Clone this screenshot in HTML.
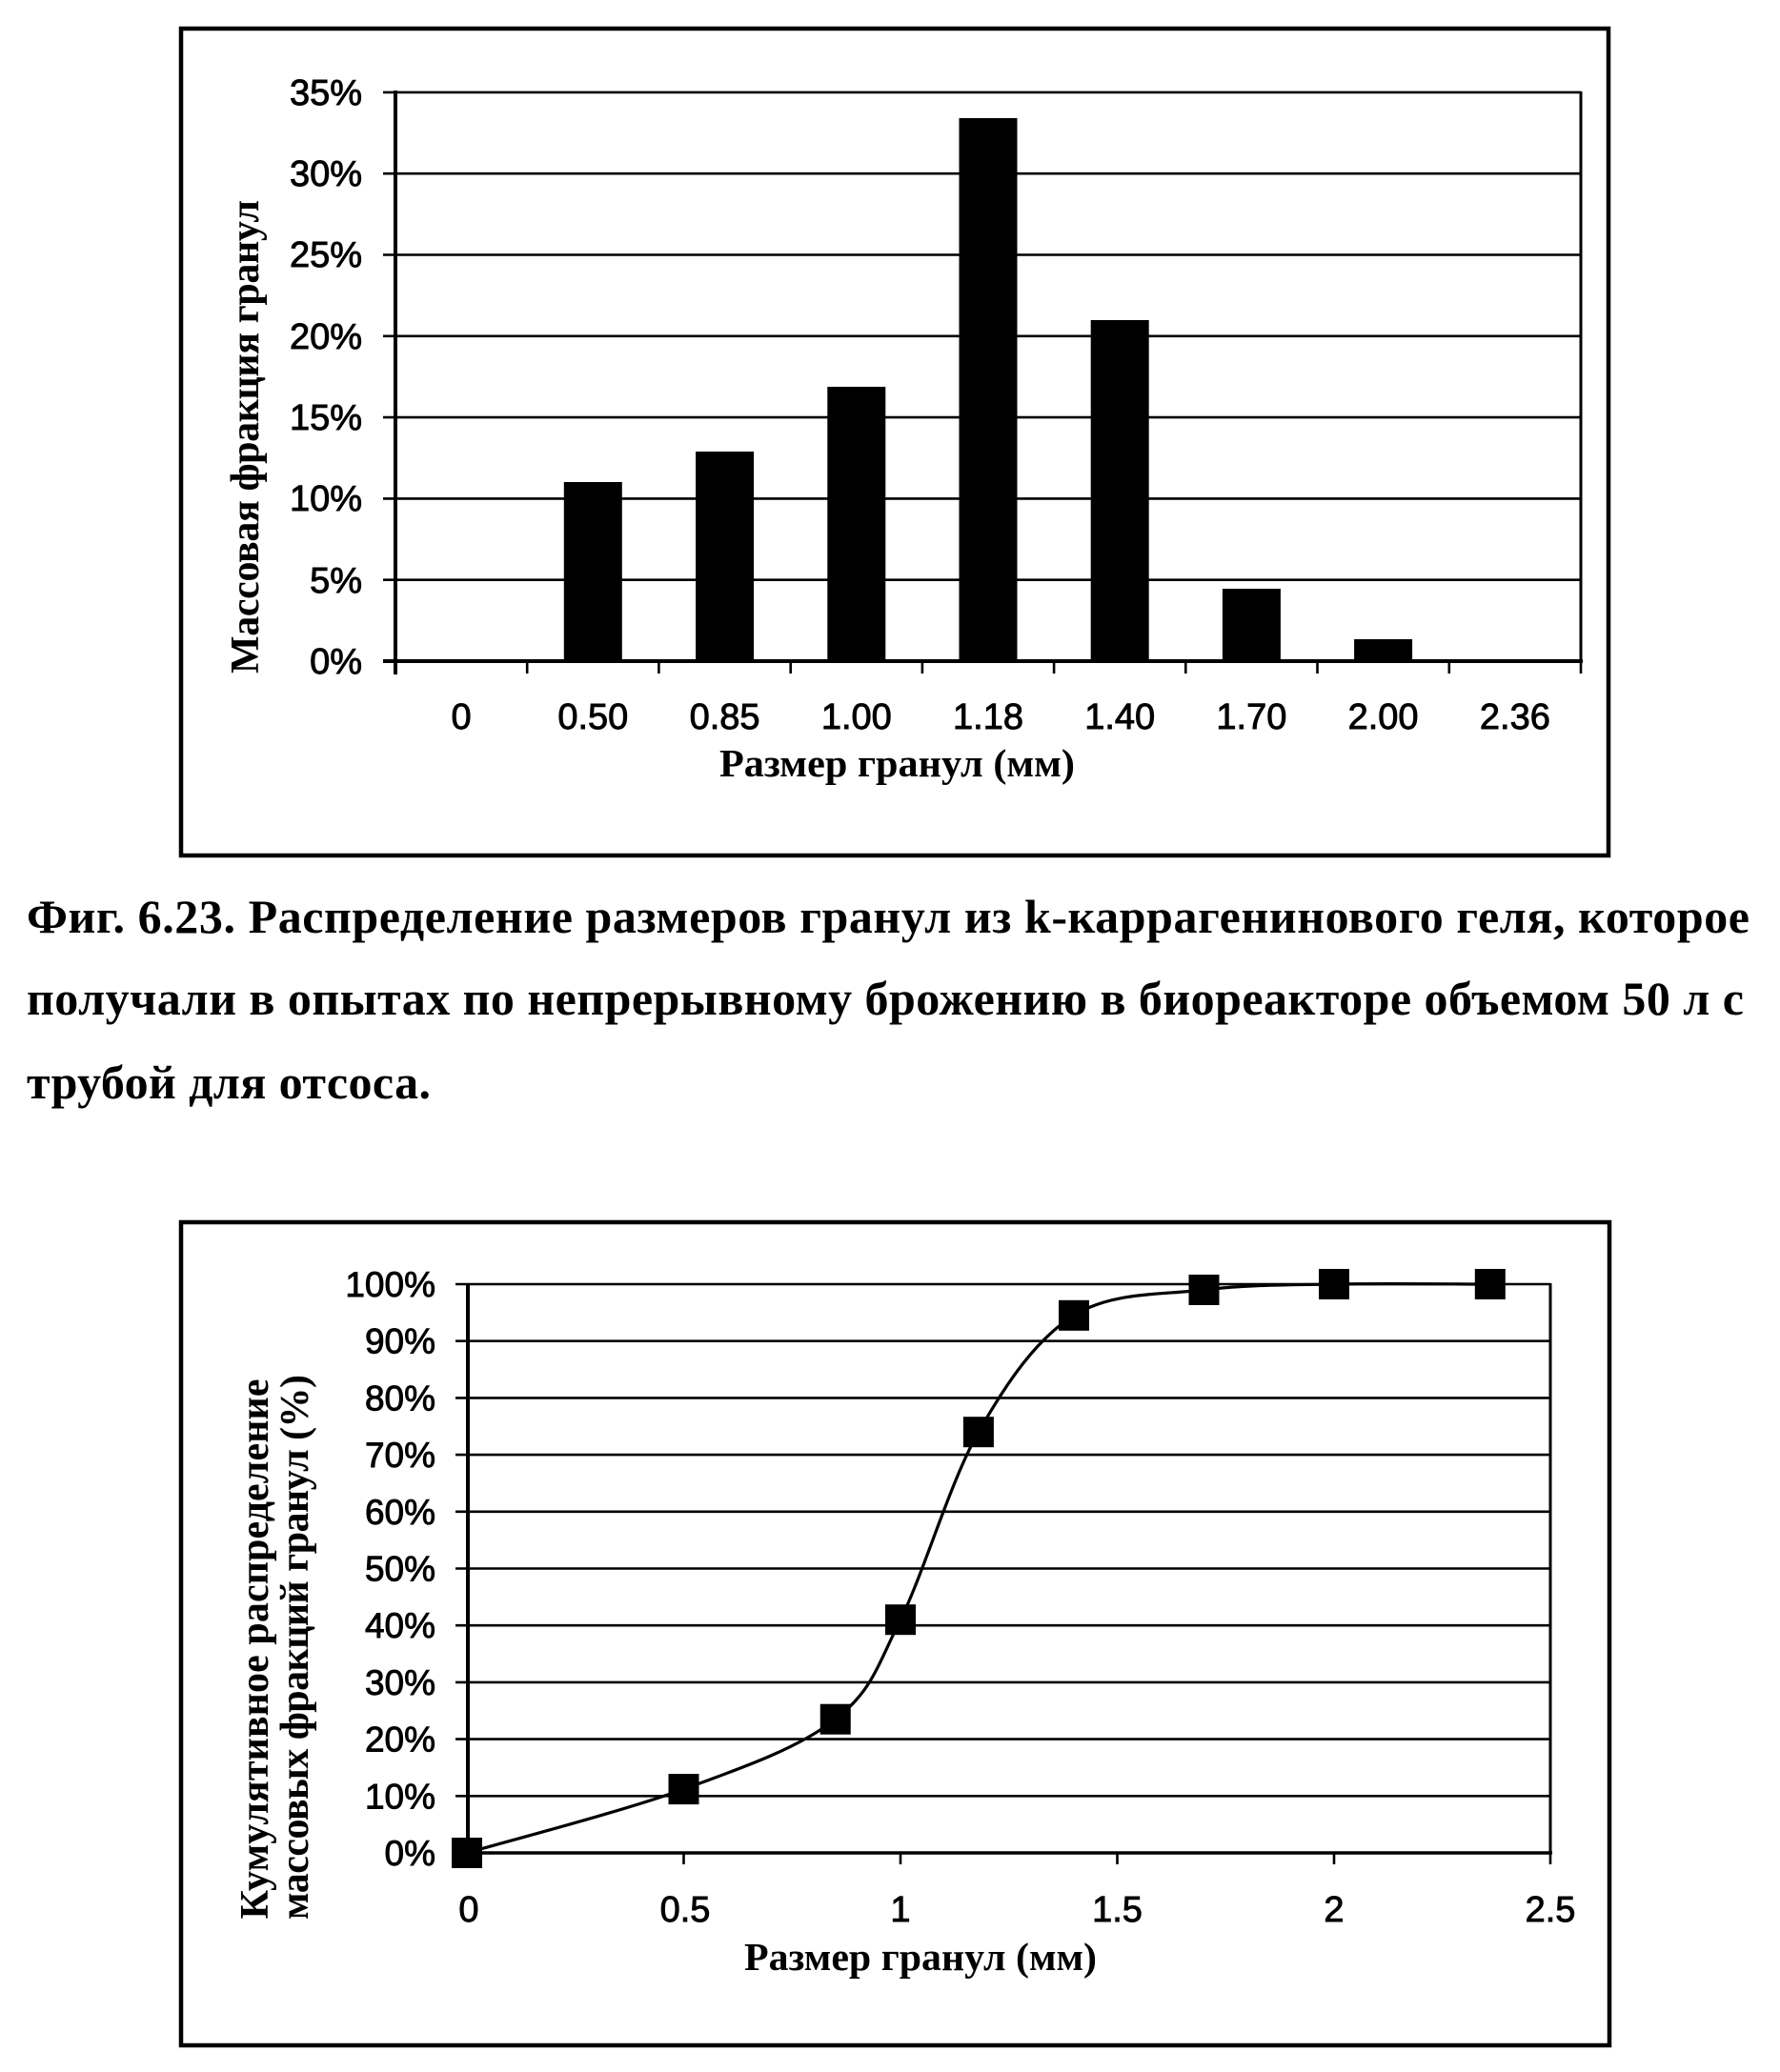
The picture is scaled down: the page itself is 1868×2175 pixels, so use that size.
<!DOCTYPE html>
<html>
<head>
<meta charset="utf-8">
<style>
html,body{margin:0;padding:0;background:#fff;}
svg{display:block;}
.sans{font-family:"Liberation Sans",Arial,sans-serif;stroke:#000;stroke-width:0.9;}
.serif{font-family:"Liberation Serif","Times New Roman",serif;font-weight:bold;}
</style>
</head>
<body>
<svg width="1868" height="2175" viewBox="0 0 1868 2175" xmlns="http://www.w3.org/2000/svg">
<rect x="0" y="0" width="1868" height="2175" fill="#fff"/>

<!-- ================= TOP CHART ================= -->
<rect x="190" y="30" width="1498" height="868" fill="none" stroke="#000" stroke-width="4.5"/>

<g stroke="#000" stroke-width="2.6">
  <line x1="402" y1="96.9" x2="1659" y2="96.9"/>
  <line x1="402" y1="182.2" x2="1659" y2="182.2"/>
  <line x1="402" y1="267.5" x2="1659" y2="267.5"/>
  <line x1="402" y1="352.8" x2="1659" y2="352.8"/>
  <line x1="402" y1="438.1" x2="1659" y2="438.1"/>
  <line x1="402" y1="523.4" x2="1659" y2="523.4"/>
  <line x1="402" y1="608.7" x2="1659" y2="608.7"/>
</g>
<line x1="1659" y1="96" x2="1659" y2="694" stroke="#000" stroke-width="3"/>

<g fill="#000">
  <rect x="591.8" y="506" width="61" height="188"/>
  <rect x="730.1" y="474" width="61" height="220"/>
  <rect x="868.3" y="406" width="61" height="288"/>
  <rect x="1006.5" y="124" width="61" height="570"/>
  <rect x="1144.7" y="336" width="61" height="358"/>
  <rect x="1282.9" y="618" width="61" height="76"/>
  <rect x="1421.1" y="671" width="61" height="23"/>
</g>

<line x1="415" y1="95" x2="415" y2="708" stroke="#000" stroke-width="4"/>
<line x1="402" y1="694" x2="1661" y2="694" stroke="#000" stroke-width="4"/>
<g stroke="#000" stroke-width="2.6">
  <line x1="553.2" y1="694" x2="553.2" y2="707"/>
  <line x1="691.4" y1="694" x2="691.4" y2="707"/>
  <line x1="829.7" y1="694" x2="829.7" y2="707"/>
  <line x1="967.9" y1="694" x2="967.9" y2="707"/>
  <line x1="1106.1" y1="694" x2="1106.1" y2="707"/>
  <line x1="1244.3" y1="694" x2="1244.3" y2="707"/>
  <line x1="1382.5" y1="694" x2="1382.5" y2="707"/>
  <line x1="1520.8" y1="694" x2="1520.8" y2="707"/>
  <line x1="1659" y1="694" x2="1659" y2="707"/>
</g>

<g class="sans" font-size="38" text-anchor="end" fill="#000">
  <text x="380" y="110">35%</text>
  <text x="380" y="195">30%</text>
  <text x="380" y="280">25%</text>
  <text x="380" y="366">20%</text>
  <text x="380" y="451">15%</text>
  <text x="380" y="536">10%</text>
  <text x="380" y="622">5%</text>
  <text x="380" y="707">0%</text>
</g>
<g class="sans" font-size="38" text-anchor="middle" fill="#000">
  <text x="484.1" y="765">0</text>
  <text x="622.3" y="765">0.50</text>
  <text x="760.6" y="765">0.85</text>
  <text x="898.8" y="765">1.00</text>
  <text x="1037" y="765">1.18</text>
  <text x="1175.2" y="765">1.40</text>
  <text x="1313.4" y="765">1.70</text>
  <text x="1451.6" y="765">2.00</text>
  <text x="1589.9" y="765">2.36</text>
</g>
<text class="serif" x="755" y="815" font-size="41" textLength="373" lengthAdjust="spacingAndGlyphs">Размер гранул (мм)</text>
<text class="serif" transform="translate(271,458.5) rotate(-90)" x="0" y="0" font-size="42" text-anchor="middle" textLength="497" lengthAdjust="spacing">Массовая фракция гранул</text>

<!-- ================= CAPTION ================= -->
<g class="serif" font-size="50" fill="#000">
  <text x="28" y="979" textLength="1808" lengthAdjust="spacing">Фиг. 6.23. Распределение размеров гранул из k-каррагенинового геля, которое</text>
  <text x="28" y="1065" textLength="1802" lengthAdjust="spacing">получали в опытах по непрерывному брожению в биореакторе объемом 50 л с</text>
  <text x="28" y="1153" textLength="424" lengthAdjust="spacing">трубой для отсоса.</text>
</g>

<!-- ================= BOTTOM CHART ================= -->
<rect x="190" y="1283" width="1499" height="864" fill="none" stroke="#000" stroke-width="4.5"/>

<g stroke="#000" stroke-width="2.6">
  <line x1="478" y1="1348" x2="1627" y2="1348"/>
  <line x1="478" y1="1407.7" x2="1627" y2="1407.7"/>
  <line x1="478" y1="1467.4" x2="1627" y2="1467.4"/>
  <line x1="478" y1="1527.1" x2="1627" y2="1527.1"/>
  <line x1="478" y1="1586.8" x2="1627" y2="1586.8"/>
  <line x1="478" y1="1646.5" x2="1627" y2="1646.5"/>
  <line x1="478" y1="1706.2" x2="1627" y2="1706.2"/>
  <line x1="478" y1="1765.9" x2="1627" y2="1765.9"/>
  <line x1="478" y1="1825.6" x2="1627" y2="1825.6"/>
  <line x1="478" y1="1885.3" x2="1627" y2="1885.3"/>
</g>
<line x1="1627" y1="1347" x2="1627" y2="1945" stroke="#000" stroke-width="3"/>
<line x1="478" y1="1945" x2="1629" y2="1945" stroke="#000" stroke-width="3.5"/>
<line x1="491" y1="1347" x2="491" y2="1945" stroke="#000" stroke-width="4"/>
<g stroke="#000" stroke-width="2.6">
  <line x1="490" y1="1945" x2="490" y2="1957"/>
  <line x1="717.5" y1="1945" x2="717.5" y2="1957"/>
  <line x1="945" y1="1945" x2="945" y2="1957"/>
  <line x1="1172.5" y1="1945" x2="1172.5" y2="1957"/>
  <line x1="1400" y1="1945" x2="1400" y2="1957"/>
  <line x1="1627" y1="1945" x2="1627" y2="1957"/>
</g>

<path d="M490,1945 C527.9,1933.9 653.0,1901.5 717.5,1878.1 C782.0,1854.7 838.8,1834.4 876.75,1804.7 C914.7,1775.1 920.0,1750.5 945,1700.2 C970.0,1650.0 996.6,1556.4 1026.9,1503.2 C1057.2,1450.0 1087.6,1405.7 1127,1380.8 C1166.4,1355.9 1218.0,1359.5 1263.5,1354.0 C1309.0,1348.5 1350.0,1349.0 1400,1348 C1450.05,1347.0 1536.5,1348 1563.8,1348" fill="none" stroke="#000" stroke-width="3.2"/>

<g fill="#000">
  <rect x="474" y="1929" width="32" height="32"/>
  <rect x="701.5" y="1862.1" width="32" height="32"/>
  <rect x="860.75" y="1788.7" width="32" height="32"/>
  <rect x="929" y="1684.2" width="32" height="32"/>
  <rect x="1010.9" y="1487.2" width="32" height="32"/>
  <rect x="1111" y="1364.8" width="32" height="32"/>
  <rect x="1247.5" y="1338" width="32" height="32"/>
  <rect x="1384" y="1332" width="32" height="32"/>
  <rect x="1547.8" y="1332" width="32" height="32"/>
</g>

<g class="sans" font-size="37" text-anchor="end" fill="#000">
  <text x="457" y="1361">100%</text>
  <text x="457" y="1420.7">90%</text>
  <text x="457" y="1480.4">80%</text>
  <text x="457" y="1540.1">70%</text>
  <text x="457" y="1599.8">60%</text>
  <text x="457" y="1659.5">50%</text>
  <text x="457" y="1719.2">40%</text>
  <text x="457" y="1778.9">30%</text>
  <text x="457" y="1838.6">20%</text>
  <text x="457" y="1898.3">10%</text>
  <text x="457" y="1958">0%</text>
</g>
<g class="sans" font-size="38" text-anchor="middle" fill="#000">
  <text x="492" y="2017">0</text>
  <text x="719" y="2017">0.5</text>
  <text x="945" y="2017">1</text>
  <text x="1172.5" y="2017">1.5</text>
  <text x="1400" y="2017">2</text>
  <text x="1627" y="2017">2.5</text>
</g>
<text class="serif" x="781" y="2068" font-size="41" textLength="370" lengthAdjust="spacingAndGlyphs">Размер гранул (мм)</text>
<text class="serif" transform="translate(281,1731) rotate(-90)" x="0" y="0" font-size="42" text-anchor="middle" textLength="567" lengthAdjust="spacing">Кумулятивное распределение</text>
<text class="serif" transform="translate(323,1729) rotate(-90)" x="0" y="0" font-size="42" text-anchor="middle" textLength="572" lengthAdjust="spacing">массовых фракций гранул (%)</text>
</svg>
</body>
</html>
